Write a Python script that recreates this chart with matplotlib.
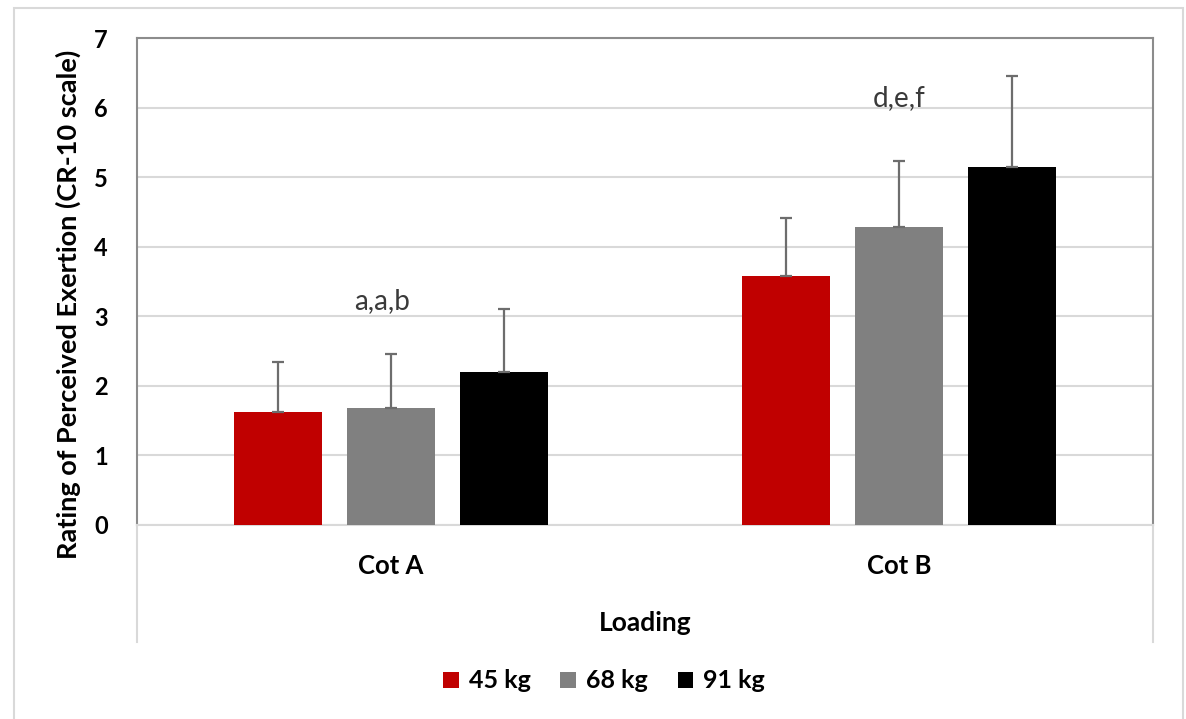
import matplotlib
matplotlib.use("Agg")
import matplotlib.pyplot as plt
import numpy as np
from matplotlib.patches import Patch, Rectangle
from matplotlib.lines import Line2D

categories = ["Cot A", "Cot B"]
series = ["45 kg", "68 kg", "91 kg"]
means = {
    "45 kg": [1.62, 3.58],
    "68 kg": [1.68, 4.28],
    "91 kg": [2.20, 5.15],
}
errs = {
    "45 kg": [0.72, 0.83],
    "68 kg": [0.78, 0.95],
    "91 kg": [0.90, 1.31],
}
colors = {"45 kg": "#c00000", "68 kg": "#808080", "91 kg": "#000000"}
annotations = ["a,a,b", "d,e,f"]
annot_x = [-0.018, 1.0]
annot_y = [3.22, 6.13]
yticks = [0, 1, 2, 3, 4, 5, 6, 7]

plt.rcParams['font.family'] = ['Lato', 'DejaVu Sans']

W, H = 1186, 719
fig = plt.figure(figsize=(W / 100, H / 100), dpi=100)

# outer light border
fig.patches.append(Rectangle((14 / W, -0.01), (1183 - 14) / W, (H - 8) / H + 0.01,
                             transform=fig.transFigure, fill=False,
                             edgecolor="#d9d9d9", linewidth=1.5))

ax = fig.add_axes([137 / W, (H - 525) / H, 1016 / W, 487 / H])

x = np.arange(len(categories))
width = 0.173
step = 0.222
for i, s in enumerate(series):
    pos = x + (i - 1) * step
    ax.bar(pos, means[s], width, color=colors[s], zorder=3,
           edgecolor="none")
    ax.errorbar(pos, means[s], yerr=[np.zeros(len(categories)), errs[s]],
                fmt="none", ecolor="#6d6d6d", elinewidth=1.6, capsize=4.5,
                capthick=1.6, zorder=4)

for xi, txt, yy in zip(annot_x, annotations, annot_y):
    ax.text(xi, yy, txt, ha="center", va="center", fontsize=20,
            color="#3a3a3a")

ax.set_xlim(-0.5, 1.5)
ax.set_ylim(0, 7)
ax.set_yticks(yticks)
ax.set_yticklabels([str(t) for t in yticks], fontsize=17, fontweight="bold",
                   color="#000000")
ax.set_xticks(x)
ax.set_xticklabels(categories, fontsize=18.5, fontweight="bold", color="#000000")
ax.tick_params(axis="y", length=0, pad=21)
ax.tick_params(axis="x", length=0, pad=21)
ax.grid(axis="y", color="#d9d9d9", linewidth=1.5, zorder=0)
ax.set_axisbelow(True)
for side in ["top", "right", "left"]:
    ax.spines[side].set_color("#8c8c8c")
    ax.spines[side].set_linewidth(1.5)
ax.spines["bottom"].set_color("#d9d9d9")
ax.spines["bottom"].set_linewidth(1.5)

# extended category area lines
for xp in [137, 1153]:
    fig.add_artist(Line2D([xp / W, xp / W], [(H - 642) / H, (H - 525) / H],
                          transform=fig.transFigure, color="#d9d9d9",
                          linewidth=1.5))

fig.text(645 / W, 1 - 623 / H, "Loading", ha="center", va="center",
         fontsize=19, fontweight="bold")
fig.text(68 / W, 1 - 304 / H, "Rating of Perceived Exertion (CR-10 scale)",
         ha="center", va="center", rotation=90, fontsize=19.5, fontweight="bold")

handles = [Patch(facecolor=colors[s], edgecolor="none", label=s) for s in series]
fig.legend(handles=handles, loc="center", bbox_to_anchor=(604 / W, 1 - 681 / H),
           ncol=3, frameon=False, prop={"size": 18, "weight": "bold"},
           handlelength=0.62, handleheight=0.62, handletextpad=0.4,
           columnspacing=1.2)

fig.savefig("out.png", dpi=100)
